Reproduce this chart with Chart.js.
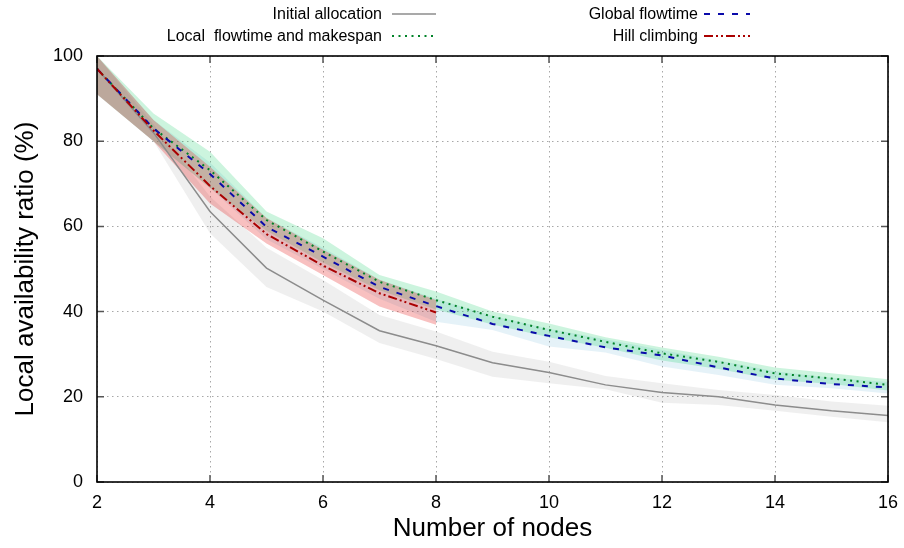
<!DOCTYPE html>
<html><head><meta charset="utf-8">
<script src="https://cdn.jsdelivr.net/npm/chart.js@4.4.1/dist/chart.umd.min.js"></script>
<style>html,body{margin:0;padding:0;background:#fff}#wrap{width:904px;height:548px}</style>
</head><body><div id="wrap"><canvas id="c" width="904" height="548"></canvas></div>
<script>
// ---- data ----
const nodes = [2,3,4,5,6,7,8,9,10,11,12,13,14,15,16];
const hillNodes = [2,3,4,5,6,7,8];

const initialMean = [97, 82, 63.5, 50.2, 42.7, 35.5, 32.0, 28.0, 25.7, 22.8, 21.0, 20.0, 18.1, 16.7, 15.6];
const initialLow  = [91, 80, 58.4, 45.8, 40.0, 32.6, 28.9, 24.7, 23.2, 21.8, 18.6, 18.1, 16.7, 15.3, 14.0];
const initialHigh = [100, 84, 67, 55, 47.4, 39.2, 35.3, 30.6, 28.2, 24.9, 23.2, 21.6, 20.4, 18.9, 17.9];

const localMean = [97, 83, 73.2, 61.5, 54.1, 47.0, 42.7, 38.8, 35.7, 32.9, 30.2, 28.2, 25.5, 24.3, 22.8];
const localLow  = [91, 80, 69, 59, 51.5, 45, 40.5, 37, 34, 31.5, 28.5, 26.5, 24, 23, 21.5];
const localHigh = [100, 86.5, 77.5, 63.5, 57.2, 48.6, 44.7, 40.0, 37.2, 34.0, 31.6, 29.4, 26.9, 25.5, 24.1];

const globalMean = [97, 83, 72.3, 59.9, 52.9, 45.8, 41.3, 37.1, 34.3, 31.6, 29.7, 26.9, 24.3, 23.0, 22.2];
const globalLow  = [91, 80, 69, 57, 50, 43, 37.6, 35.7, 31.8, 30.4, 27.1, 25.1, 22.8, 22.0, 20.8];
const globalHigh = [100, 85, 75, 62, 55, 47.5, 43, 39, 36, 33.5, 31, 28.5, 26, 24.5, 23.5];

const hillMean = [97, 82.5, 69.5, 58.2, 50.8, 44.3, 39.8];
const hillLow  = [91, 80, 65.4, 56.0, 48.6, 41.2, 36.9];
const hillHigh = [100, 85, 74, 62, 54.5, 47.5, 42.7];

const xTicks = [2,4,6,8,10,12,14,16];
const yTicks = [0,20,40,60,80,100];

const seriesLabels = ['Initial allocation', 'Local  flowtime and makespan', 'Global flowtime', 'Hill climbing'];
const xTitle = 'Number of nodes';
const yTitle = 'Local availability ratio (%)';

// ---- styles ----
const lineColors = ['rgb(140,140,140)', 'rgb(0,130,40)', 'rgb(10,10,170)', 'rgb(170,0,0)'];
const lineDashes = [[], [2,4.5], [6,8], [9,3,2,3,2,3]];
const lineWidths = [1.5, 2, 2, 2];
const bandColors = ['rgba(150,150,150,0.15)', 'rgba(0,200,90,0.2)', 'rgba(80,170,210,0.15)', 'rgba(230,30,30,0.28)'];

const pts = (xs, ys) => xs.map((x, i) => ({x: x, y: ys[i]}));
const FONT = "'Liberation Sans', Arial, Helvetica, sans-serif";

function band(xs, lo, hi, idx, order) {
  return [
    {label: '_lo' + idx, data: pts(xs, lo), borderWidth: 0, pointRadius: 0, fill: false, order: order, borderColor: 'rgba(0,0,0,0)'},
    {label: '_hi' + idx, data: pts(xs, hi), borderWidth: 0, pointRadius: 0, fill: '-1', backgroundColor: bandColors[idx], order: order, borderColor: 'rgba(0,0,0,0)'}
  ];
}
function line(xs, ys, idx, order) {
  return {label: seriesLabels[idx], data: pts(xs, ys), borderColor: lineColors[idx], borderWidth: lineWidths[idx],
    borderDash: lineDashes[idx], pointRadius: 0, fill: false, tension: 0, order: order, borderCapStyle: 'butt'};
}

const datasets = [
  ...band(nodes, initialLow, initialHigh, 0, 11),
  ...band(nodes, globalLow, globalHigh, 2, 9),
  ...band(nodes, localLow, localHigh, 1, 8),
  ...band(hillNodes, hillLow, hillHigh, 3, 5),
  line(nodes, initialMean, 0, 3),
  line(nodes, localMean, 1, 2),
  line(nodes, globalMean, 2, 1),
  line(hillNodes, hillMean, 3, 0)
];

const framePlugin = {
  id: 'frame',
  afterDatasetsDraw(chart) {
    const {ctx, chartArea: a, scales: {x, y}} = chart;
    ctx.save();
    ctx.strokeStyle = '#555';
    ctx.lineWidth = 1.5;
    ctx.setLineDash([]);
    const tl = 7;
    ctx.beginPath();
    xTicks.forEach(v => {
      const px = x.getPixelForValue(v);
      ctx.moveTo(px, a.bottom); ctx.lineTo(px, a.bottom - tl);
      ctx.moveTo(px, a.top); ctx.lineTo(px, a.top + tl);
    });
    yTicks.forEach(v => {
      const py = y.getPixelForValue(v);
      ctx.moveTo(a.left, py); ctx.lineTo(a.left + tl, py);
      ctx.moveTo(a.right, py); ctx.lineTo(a.right - tl, py);
    });
    ctx.stroke();
    ctx.strokeStyle = '#000';
    ctx.lineWidth = 1.6;
    ctx.strokeRect(a.left, a.top, a.right - a.left, a.bottom - a.top);
    ctx.restore();
  },
  afterDraw(chart) {
    const ctx = chart.ctx;
    const items = [
      {idx: 0, tx: 382, y: 14, lx0: 392, lx1: 436},
      {idx: 1, tx: 382, y: 36, lx0: 392, lx1: 436},
      {idx: 2, tx: 698, y: 14, lx0: 704, lx1: 750},
      {idx: 3, tx: 698, y: 36, lx0: 704, lx1: 750}
    ];
    ctx.save();
    ctx.font = '16px ' + FONT;
    ctx.fillStyle = '#000';
    ctx.textAlign = 'right';
    ctx.textBaseline = 'middle';
    items.forEach(it => {
      ctx.fillText(seriesLabels[it.idx], it.tx, it.y + 1);
      ctx.strokeStyle = lineColors[it.idx];
      ctx.lineWidth = lineWidths[it.idx];
      ctx.setLineDash(lineDashes[it.idx]);
      ctx.beginPath();
      ctx.moveTo(it.lx0, it.y); ctx.lineTo(it.lx1, it.y);
      ctx.stroke();
    });
    ctx.restore();
  }
};

new Chart(document.getElementById('c'), {
  type: 'line',
  data: {datasets: datasets},
  options: {
    responsive: false,
    animation: false,
    layout: {padding: {top: 56, right: 16, left: 0, bottom: 0}},
    plugins: {legend: {display: false}, tooltip: {enabled: false}},
    scales: {
      x: {
        type: 'linear', min: 2, max: 16,
        afterFit(s) { s.height = 66; s.paddingLeft = 0; s.paddingRight = 0; },
        afterBuildTicks(s) { s.ticks = xTicks.map(v => ({value: v})); },
        ticks: {font: {size: 18, family: FONT}, color: '#000', padding: 10, maxRotation: 0},
        grid: {color: '#a8a8a8', lineWidth: 1, drawTicks: false},
        border: {display: false, dash: [1.5, 3.5]},
        title: {display: true, text: xTitle, font: {size: 26, family: FONT}, color: '#000', padding: {top: 0, bottom: 4}}
      },
      y: {
        type: 'linear', min: 0, max: 100,
        afterFit(s) { s.width = 97; s.paddingTop = 0; s.paddingBottom = 0; },
        afterBuildTicks(s) { s.ticks = yTicks.map(v => ({value: v})); },
        ticks: {font: {size: 18, family: FONT}, color: '#000', padding: 14},
        grid: {color: '#a8a8a8', lineWidth: 1, drawTicks: false},
        border: {display: false, dash: [1.5, 3.5]},
        title: {display: true, text: yTitle, font: {size: 26, family: FONT}, color: '#000', padding: {top: 10, bottom: 0}}
      }
    }
  },
  plugins: [framePlugin]
});
</script>
</body></html>
